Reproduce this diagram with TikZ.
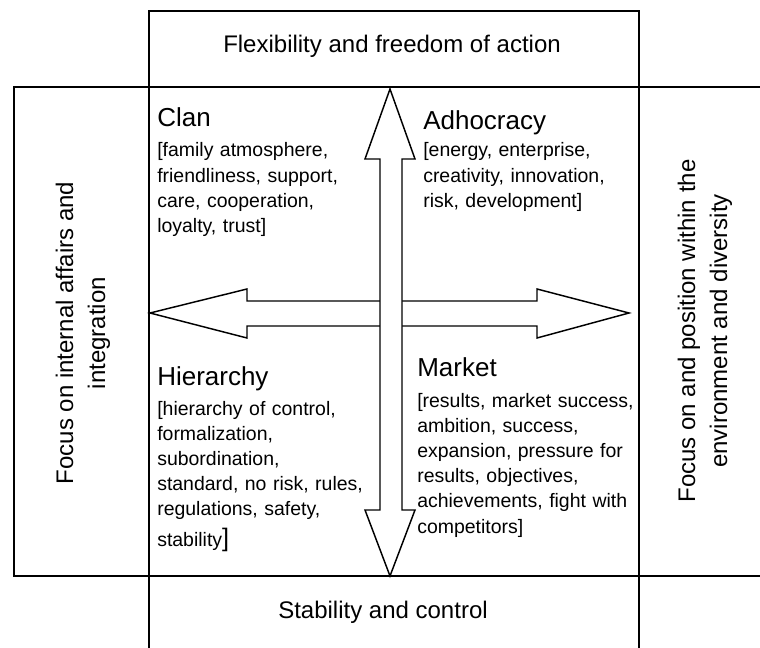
\documentclass[tikz,border=0pt]{standalone}
\usepackage{fontspec}
\setmainfont{Liberation Sans}
\usetikzlibrary{calc}

\tikzset{
  frame/.style={line width=1.5pt},
  bigarrow/.style={draw,fill=white,line width=1.1pt,line join=miter},
  heading/.style={anchor=base west,inner sep=0pt,font=\fontsize{19.5}{23}\selectfont},
  listtext/.style={anchor=base west,inner sep=0pt,align=left,text width=180pt,font=\fontsize{14.6}{18.9}\selectfont},
  axislabel/.style={inner sep=0pt,align=center,font=\fontsize{18}{24}\selectfont}
}

\begin{document}
\begin{tikzpicture}[x=0.75pt,y=-0.75pt]

	\useasboundingbox (0,0) rectangle (760,648);

	\draw[frame] (149,648) -- (149,11) -- (639,11) -- (639,648);
	\draw[frame] (760,87) -- (13.5,87) -- (13.5,576) -- (760,576);

	\draw[bigarrow] (150,313) -- (247,289) -- (247,301) -- (537,301) -- (537,289) -- (629,313)
	-- (537,338) -- (537,326) -- (247,326) -- (247,338) -- cycle;
	\draw[bigarrow] (390,89) -- (415,159) -- (402,159) -- (402,510) -- (415,510) -- (390,576)
	-- (365,510) -- (380,510) -- (380,159) -- (365,159) -- cycle;

	\node[axislabel,anchor=base] (flex) at (392,53) {Flexibility and freedom of action};
	\node[axislabel,anchor=base] (stab) at (383,618) {Stability and control};
	\node[axislabel,rotate=90] (internal) at (83,333) {Focus on internal affairs and\\integration};
	\node[axislabel,rotate=90] (external) at (705,331) {Focus on and position within the\\environment and diversity};

	\node[heading] (clan) at (157,127) {Clan};
	\node[listtext] (clanlist) at (157,157) {[family atmosphere,\\friendliness, support,\\care, cooperation,\\loyalty, trust]};

	\node[heading] (adho) at (423,130) {Adhocracy};
	\node[listtext] (adholist) at (423,157) {[energy, enterprise,\\creativity, innovation,\\risk, development]};

	\node[heading] (hier) at (157,385) {Hierarchy};
	\node[listtext] (hierlist) at (157,415) {[hierarchy of control,\\formalization,\\subordination,\\standard, no risk, rules,\\regulations, safety,\\[4pt]stability{\fontsize{19}{19}\selectfont]}};

	\node[heading] (market) at (417,377) {Market};
	\node[listtext] (marketlist) at (417,407) {[results, market success,\\ambition, success,\\expansion, pressure for\\results, objectives,\\achievements, fight with\\competitors]};

\end{tikzpicture}
\end{document}
